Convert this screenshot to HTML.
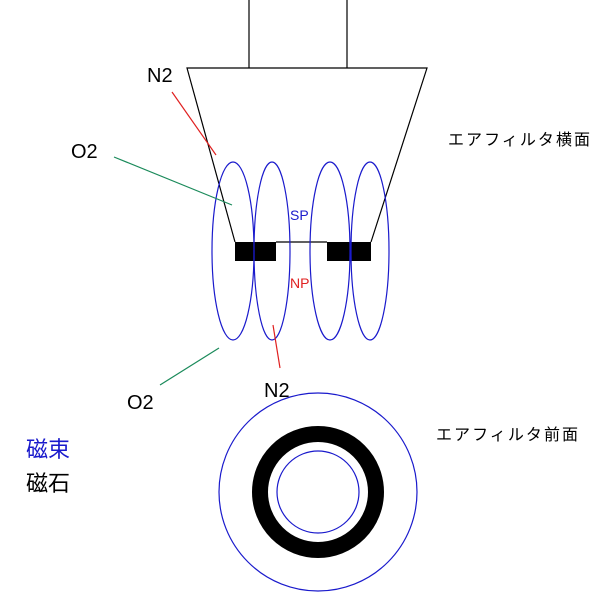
<!DOCTYPE html>
<html><head><meta charset="utf-8"><style>body{margin:0;background:#fff}svg{display:block}</style></head>
<body>
<svg width="600" height="600" xmlns="http://www.w3.org/2000/svg" font-family="Liberation Sans, Noto Sans CJK JP, sans-serif">
<line x1="249" y1="0" x2="249" y2="68" stroke="#000" stroke-width="1.2"/>
<line x1="347" y1="0" x2="347" y2="68" stroke="#000" stroke-width="1.2"/>
<polyline points="235,242 187,68 427,68 371,242" fill="none" stroke="#000" stroke-width="1.2"/>
<line x1="276" y1="242" x2="327" y2="242" stroke="#000" stroke-width="1.2"/>
<rect x="235" y="242" width="41" height="19" fill="#000"/>
<rect x="327" y="242" width="44" height="19" fill="#000"/>
<g fill="none" stroke="#1a1acc" stroke-width="1.2">
<ellipse cx="233" cy="251" rx="21" ry="89"/>
<ellipse cx="272" cy="251" rx="18" ry="89"/>
<ellipse cx="330" cy="251" rx="20" ry="89"/>
<ellipse cx="370" cy="251" rx="19" ry="89"/>
<circle cx="318" cy="492" r="99"/>
<circle cx="318" cy="492" r="41"/>
</g>
<circle cx="318" cy="492" r="58" fill="none" stroke="#000" stroke-width="16"/>
<line x1="172" y1="92" x2="216" y2="155" stroke="#e02020" stroke-width="1.2"/>
<line x1="273" y1="325" x2="280" y2="368" stroke="#e02020" stroke-width="1.2"/>
<line x1="114" y1="157" x2="232" y2="205" stroke="#1a8a5a" stroke-width="1.2"/>
<line x1="160" y1="385" x2="219" y2="348" stroke="#1a8a5a" stroke-width="1.2"/>
<text x="147" y="82" font-size="20">N2</text>
<text x="71" y="158" font-size="20">O2</text>
<text x="127" y="409" font-size="20">O2</text>
<text x="264" y="397" font-size="20">N2</text>
<text x="290" y="220" font-size="14" fill="#1a1acc">SP</text>
<text x="290" y="288" font-size="14" fill="#e02020">NP</text>
<text x="448" y="145" font-size="16" textLength="142">エアフィルタ横面</text>
<text x="436" y="440" font-size="16" textLength="142">エアフィルタ前面</text>
<text x="26" y="457" font-size="22" fill="#1a1acc">磁束</text>
<text x="26" y="491" font-size="22">磁石</text>
</svg>
</body></html>
